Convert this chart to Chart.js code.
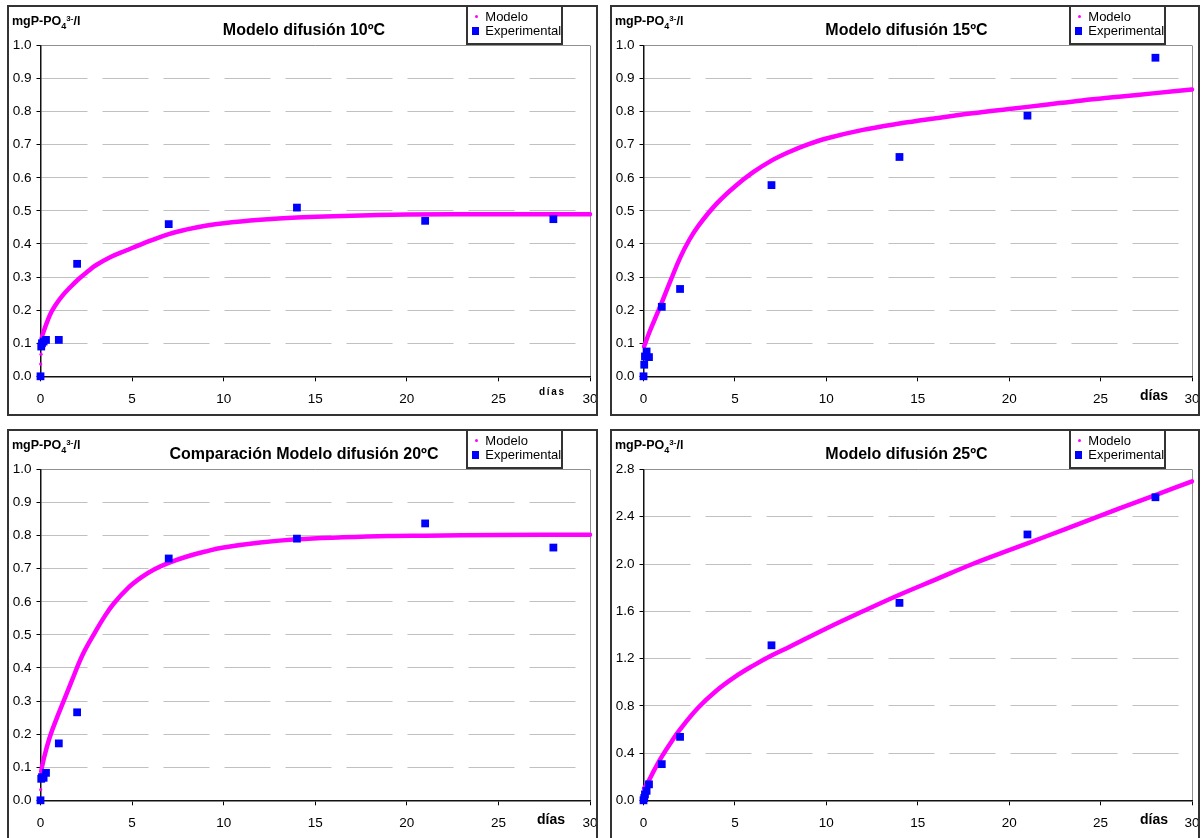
<!DOCTYPE html>
<html lang="es">
<head>
<meta charset="utf-8">
<title>Modelo difusión – fósforo</title>
<script src="https://cdn.jsdelivr.net/npm/chart.js@4.4.1/dist/chart.umd.min.js"></script>
<style>
  html, body { margin: 0; padding: 0; background: #fff; width: 1201px; height: 838px; overflow: hidden;
    font-family: 'Liberation Sans', Arial, Helvetica, sans-serif; color: #000; }
  .panel { position: absolute; background: #fff; }
  .panel canvas { position: absolute; left: 0; top: 0; }
  .frame { position: absolute; left: 0; top: 0; right: 0; bottom: 0; border: 2px solid #333;
    box-sizing: border-box; pointer-events: none; }
  .title { position: absolute; left: 3px; right: 0; text-align: center; font-weight: bold;
    font-size: 16px; line-height: 16px; white-space: nowrap; }
  .unit { position: absolute; left: 5px; font-weight: bold; font-size: 12.5px; line-height: 12px; white-space: nowrap; }
  .unit sub { font-size: 9px; line-height: 0; vertical-align: -4px; }
  .unit sup { font-size: 8px; line-height: 0; vertical-align: 4px; }
  .legend { position: absolute; top: 0; width: 97px; height: 40px; border: 2px solid #333;
    box-sizing: border-box; background: #fff; }
  .legend .dot { position: absolute; left: 6.8px; top: 8px; width: 3px; height: 3px; border-radius: 50%; background: #ff00ff; }
  .legend .sq { position: absolute; left: 3.7px; top: 20.3px; width: 7.5px; height: 7.5px; background: #0000ff; }
  .legend .txt { position: absolute; left: 17.3px; font-size: 13px; line-height: 13px; white-space: nowrap; }
  .dias { position: absolute; font-weight: bold; white-space: nowrap; }
  .dias.small { font-size: 10px; line-height: 10px; letter-spacing: 1.7px; }
  .dias.big { font-size: 14px; line-height: 14px; }
</style>
</head>
<body>
<script>
// ---- axis ticks ----
const DIAS_TICKS = [0, 5, 10, 15, 20, 25, 30];
const Y_TICKS_1 = [0, 0.1, 0.2, 0.3, 0.4, 0.5, 0.6, 0.7, 0.8, 0.9, 1.0];
const Y_TICKS_25 = [0, 0.4, 0.8, 1.2, 1.6, 2.0, 2.4, 2.8];

// ---- experimental measurements (días, mgP-PO4/l) ----
const DIAS_EXP = [0, 0.04, 0.08, 0.17, 0.3, 1, 2, 7, 14, 21, 28];
const EXP_10 = [0, 0.09, 0.10, 0.105, 0.11, 0.11, 0.34, 0.46, 0.51, 0.47, 0.475];
const EXP_15 = [0, 0.035, 0.06, 0.075, 0.058, 0.21, 0.264, 0.578, 0.663, 0.788, 0.963];
const EXP_20 = [0, 0.065, 0.07, 0.068, 0.083, 0.172, 0.266, 0.731, 0.791, 0.837, 0.764];
const EXP_25 = [0, 0.02, 0.05, 0.08, 0.135, 0.306, 0.537, 1.312, 1.671, 2.25, 2.565];

// ---- diffusion model curves ----
const MOD_10_DIAS = [0.01, 0.03, 0.07, 0.2, 0.4, 0.6, 0.85, 1.2, 1.6, 2.1, 2.6, 3, 3.8, 4.7, 6, 7, 8, 9, 10, 12, 14, 16, 18, 20, 25, 30];
const MOD_10 = [0.037, 0.067, 0.115, 0.14, 0.17, 0.195, 0.218, 0.244, 0.268, 0.295, 0.318, 0.335, 0.36, 0.381, 0.41, 0.43, 0.444, 0.455, 0.463, 0.473, 0.48, 0.484, 0.487, 0.489, 0.49, 0.49];

const MOD_15_DIAS = [0.03, 0.3, 0.6, 1, 1.5, 2, 2.5, 3, 4, 5, 6, 7, 8, 9, 10, 12, 14, 16, 18, 20, 22, 24, 26, 28, 30];
const MOD_15 = [0.09, 0.13, 0.17, 0.223, 0.292, 0.358, 0.412, 0.455, 0.522, 0.574, 0.617, 0.652, 0.679, 0.701, 0.719, 0.745, 0.764, 0.78, 0.795, 0.808, 0.821, 0.834, 0.845, 0.856, 0.867];

const MOD_20_DIAS = [0.01, 0.04, 0.2, 0.5, 0.9, 1.3, 1.7, 2.3, 3, 3.5, 4, 4.8, 5.5, 6.2, 7, 8, 9, 10, 12, 14, 16.5, 19, 21, 25, 30];
const MOD_20 = [0.032, 0.086, 0.13, 0.19, 0.25, 0.305, 0.36, 0.44, 0.51, 0.556, 0.595, 0.643, 0.674, 0.698, 0.718, 0.737, 0.752, 0.764, 0.779, 0.789, 0.795, 0.799, 0.8, 0.802, 0.803];

const MOD_25_DIAS = [0.03, 0.3, 0.6, 1, 1.5, 2, 3, 4, 5, 6, 7, 8, 10, 12, 14, 16, 18, 20, 22, 24, 26, 28, 30];
const MOD_25 = [0.1, 0.17, 0.26, 0.37, 0.49, 0.6, 0.785, 0.93, 1.045, 1.14, 1.225, 1.3, 1.455, 1.6, 1.74, 1.87, 2.0, 2.117, 2.233, 2.35, 2.468, 2.584, 2.70];

const TITULOS = ['Modelo difusión 10ºC', 'Modelo difusión 15ºC', 'Comparación Modelo difusión 20ºC', 'Modelo difusión 25ºC'];

const pares = (xs, ys) => xs.map((x, i) => ({ x: x, y: ys[i] }));

// panel boxes on the page
const PANELES = [
  { x: 7,   y: 5,   w: 591, h: 411, titulo: TITULOS[0], diasX: DIAS_EXP, exp: EXP_10, modX: MOD_10_DIAS, mod: MOD_10, yTicks: Y_TICKS_1,  yMax: 1.0, sueltos: 2, diasEstilo: 'small' },
  { x: 610, y: 5,   w: 590, h: 411, titulo: TITULOS[1], diasX: DIAS_EXP, exp: EXP_15, modX: MOD_15_DIAS, mod: MOD_15, yTicks: Y_TICKS_1,  yMax: 1.0, sueltos: 0, diasEstilo: 'big' },
  { x: 7,   y: 429, w: 591, h: 412, titulo: TITULOS[2], diasX: DIAS_EXP, exp: EXP_20, modX: MOD_20_DIAS, mod: MOD_20, yTicks: Y_TICKS_1,  yMax: 1.0, sueltos: 1, diasEstilo: 'big' },
  { x: 610, y: 429, w: 590, h: 412, titulo: TITULOS[3], diasX: DIAS_EXP, exp: EXP_25, modX: MOD_25_DIAS, mod: MOD_25, yTicks: Y_TICKS_25, yMax: 2.8, sueltos: 0, diasEstilo: 'big' }
];

Chart.defaults.font.family = "'Liberation Sans', Arial, Helvetica, sans-serif";
Chart.defaults.color = '#000';

const PLOT_TOP = 40.5, PLOT_BOTTOM = 371.3, Y_AXIS_W = 33.5, PAD_RIGHT = 8;
const MAGENTA = '#ff00ff', AZUL = '#0000ff';

function crearPanel(p) {
  const div = document.createElement('div');
  div.className = 'panel';
  Object.assign(div.style, { left: p.x + 'px', top: p.y + 'px', width: p.w + 'px', height: p.h + 'px' });
  const cv = document.createElement('canvas');
  cv.width = p.w; cv.height = p.h;
  cv.style.width = p.w + 'px'; cv.style.height = p.h + 'px';
  div.appendChild(cv);

  div.insertAdjacentHTML('beforeend',
    '<div class="title" style="top:17.3px">' + p.titulo + '</div>' +
    '<div class="unit" style="top:9.6px">mgP-PO<sub>4</sub><sup>3-</sup>/l</div>' +
    '<div class="legend" style="left:459px">' +
      '<span class="dot"></span><span class="txt" style="top:2.7px">Modelo</span>' +
      '<span class="sq"></span><span class="txt" style="top:16.7px">Experimental</span>' +
    '</div>' +
    (p.diasEstilo === 'small'
      ? '<div class="dias small" style="left:532px;top:381.5px">días</div>'
      : '<div class="dias big" style="left:530px;top:383.2px">días</div>') +
    '<div class="frame"></div>');
  document.body.appendChild(div);

  const xHeight = p.h - PLOT_BOTTOM;
  new Chart(cv, {
    type: 'line',
    data: {
      datasets: [
        {
          label: 'Experimental',
          data: pares(p.diasX, p.exp),
          showLine: false,
          pointStyle: 'rect',
          pointRadius: 5.5,
          pointBorderWidth: 0,
          pointBackgroundColor: AZUL,
          borderColor: AZUL,
          clip: false,
          order: 0
        },
        {
          label: 'Modelo',
          data: pares(p.modX, p.mod),
          borderColor: MAGENTA,
          borderWidth: 4.5,
          borderCapStyle: 'round',
          borderJoinStyle: 'round',
          tension: 0.4,
          pointRadius: ctx => (ctx.dataIndex < p.sueltos ? 1.6 : 0),
          pointBorderWidth: 0,
          pointBackgroundColor: MAGENTA,
          segment: {
            borderColor: ctx => (ctx.p0DataIndex < p.sueltos ? 'rgba(0,0,0,0)' : undefined)
          },
          fill: false,
          clip: false,
          order: 1
        }
      ]
    },
    options: {
      responsive: false,
      devicePixelRatio: 1,
      animation: false,
      events: [],
      layout: { padding: { left: 0, top: PLOT_TOP, right: PAD_RIGHT, bottom: 0 } },
      plugins: { legend: { display: false }, title: { display: false }, tooltip: { enabled: false } },
      scales: {
        x: {
          type: 'linear',
          min: 0, max: 30,
          afterBuildTicks: s => { s.ticks = DIAS_TICKS.map(v => ({ value: v })); },
          // the "30" label may run past the plot edge, as in the printed figure
          afterFit: s => { s.height = xHeight; s.paddingLeft = 0; s.paddingRight = 0; },
          grid: {
            drawOnChartArea: true,
            color: ctx => (ctx.tick && ctx.tick.value === 30 ? '#909090' : 'rgba(0,0,0,0)'),
            lineWidth: 1,
            tickColor: '#000',
            tickLength: 5
          },
          border: { color: '#111', width: 1.5 },
          ticks: { padding: 10, maxRotation: 0, autoSkip: false, font: { size: 13.5 }, color: '#000' }
        },
        y: {
          min: 0, max: p.yMax,
          afterBuildTicks: s => { s.ticks = p.yTicks.map(v => ({ value: v })); },
          afterFit: s => { s.width = Y_AXIS_W; s.paddingTop = 0; s.paddingBottom = 0; },
          grid: {
            color: ctx => (ctx.tick && Math.abs(ctx.tick.value - p.yMax) < 1e-9 ? '#909090' : '#c0c0c0'),
            lineWidth: 1,
            tickColor: '#000',
            tickLength: 4
          },
          border: {
            color: '#111', width: 1.5,
            dash: ctx => (ctx.tick && Math.abs(ctx.tick.value - p.yMax) < 1e-9 ? [] : [46, 15])
          },
          ticks: { padding: 5, font: { size: 13.5 }, color: '#000', callback: v => Number(v).toFixed(1) }
        }
      }
    }
  });
}

PANELES.forEach(crearPanel);
</script>
</body>
</html>
